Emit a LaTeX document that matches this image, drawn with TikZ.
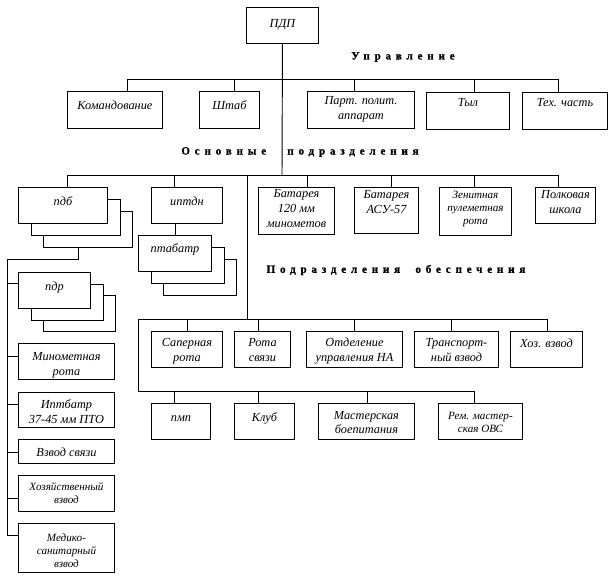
\documentclass[tikz,border=0pt]{standalone}
\usepackage{fontspec}
\setmainfont{Liberation Serif}
\newcommand{\itfont}{\fontsize{10.5}{12.5}\selectfont\itshape}
\newcommand{\smallit}{\fontsize{9.5}{11}\selectfont\itshape}
\newcommand{\hdfont}{\fontsize{9.5}{11}\selectfont\bfseries\addfontfeature{LetterSpace=43,FakeBold=1}}
\newlength{\pxu}\setlength{\pxu}{0.03cm}
\newcommand{\cell}[4][4.5pt]{\parbox[c][#3\pxu][t]{#2\pxu}{\centering\vspace*{#1}\strut#4\par}}
\begin{document}
\begin{tikzpicture}[x=0.03cm, y=-0.03cm, line width=0.8pt,
  unit/.style={draw, fill=white, inner sep=0pt, anchor=north west, font=\itfont},
  smallunit/.style={unit, font=\smallit},
  head/.style={font=\hdfont}]
\useasboundingbox (0,0) rectangle (614,578);

% Управление
\node[unit] (pdp) at (246,7) {\cell[8.5pt]{72}{36}{ПДП}};
\node[head] (upr) at (403,57) {Управление};
\node[unit] (kom) at (67,91) {\cell[6.5pt]{95}{37}{Командование}};
\node[unit] (shtab) at (199,91) {\cell[6.5pt]{60}{37}{Штаб}};
\node[unit] (part) at (307,91) {\cell[2.5pt]{107}{37}{Парт. полит.\\аппарат}};
\node[unit] (tyl) at (426,92) {\cell[3pt]{83}{37}{Тыл}};
\node[unit] (tech) at (522,92) {\cell[3pt]{85}{37}{Тех. часть}};
\foreach \n/\x in {t1/127,t2/234,t3/354,t4/474,t5/558} \coordinate (\n) at (\x,79);
\draw (t1) -- (t5);
\foreach \c/\n in {t1/kom,t2/shtab,t3/part,t4/tyl,t5/tech} \draw (\c) -- (\c |- \n.north);

% Основные подразделения
\node[head] (osn) at (300,152) {Основные\hspace{18pt}подразделения};
\foreach \k in {2,1} \node[unit] (pdb\k) at ({18+12.5*\k},{187+12.2*\k}) {\cell{89}{36}{}};
\node[unit] (pdb) at (18,187) {\cell[7pt]{89}{36}{пдб}};
\node[unit] (iptdn) at (151,187) {\cell[7pt]{71}{36}{иптдн}};
\foreach \k in {2,1} \node[unit] (ptab\k) at ({138+12.5*\k},{235+12*\k}) {\cell{73}{36}{}};
\node[unit] (ptab) at (138,235) {\cell[6pt]{73}{36}{птабатр}};
\node[unit] (bat) at (258,187) {\cell[0pt]{76}{47}{Батарея\\120 мм\\минометов}};
\node[unit] (asu) at (354,187) {\cell[1pt]{64}{46}{Батарея\\АСУ-57}};
\node[smallunit] (zenit) at (439,187) {\cell[2pt]{72}{48}{Зенитная\\пулеметная\\рота}};
\node[unit] (shkola) at (535,187) {\cell[1pt]{60}{36}{Полковая\\школа}};
\coordinate (m0) at (282,175);
\coordinate (mv) at (247,175);
\foreach \n/\x in {m1/67,m2/174,m3/307,m4/391,m5/474,m6/558} \coordinate (\n) at (\x,175);
\draw (pdp.south) -- (m0);
\draw (m1) -- (m6);
\foreach \c/\n in {m1/pdb,m2/iptdn,m3/bat,m4/asu,m5/zenit,m6/shkola} \draw (\c) -- (\c |- \n.north);
\draw (iptdn.south -| ptab.north) -- (ptab.north);

% пдб
\foreach \k in {2,1} \node[unit] (pdr\k) at ({18+12.5*\k},{272+11.7*\k}) {\cell{72}{36}{}};
\node[unit] (pdr) at (18,272) {\cell[7pt]{72}{36}{пдр}};
\node[unit] (min) at (18,343) {\cell[6pt]{96}{36}{Минометная\\рота}};
\node[unit] (iptbatr) at (18,392) {\cell[5pt]{96}{35}{Иптбатр\\37-45 мм ПТО}};
\node[unit] (vzv) at (18,439) {\cell[6pt]{96}{24}{Взвод связи}};
\node[smallunit] (khoz) at (18,475) {\cell[5.5pt]{96}{36}{Хозяйственный\\взвод}};
\node[smallunit] (med) at (18,523) {\cell[8pt]{96}{49}{Медико-\\санитарный\\взвод}};
\coordinate (pdbtail) at (78,259);
\coordinate (l0) at (7,259);
\foreach \n/\y in {l1/283,l2/356,l3/404,l4/452,l5/498,l6/535} \coordinate (\n) at (7,\y);
\draw (pdb2.south -| pdbtail) -- (pdbtail) -- (l0) -- (l6);
\foreach \c/\n in {l1/pdr,l2/min,l3/iptbatr,l4/vzv,l5/khoz,l6/med} \draw (\c) -- (\c -| \n.west);

% Подразделения обеспечения
\node[head] (obsp) at (396,270) {Подразделения\hspace{13pt}обеспечения};
\node[unit] (sap) at (151,331) {\cell{71}{36}{Саперная\\рота}};
\node[unit] (rsv) at (234,331) {\cell{56}{36}{Рота\\связи}};
\node[unit] (otd) at (306,331) {\cell{96}{36}{Отделение\\управления НА}};
\node[unit] (trans) at (414,331) {\cell{84}{36}{Транспорт-\\ный взвод}};
\node[unit] (hozv) at (510,331) {\cell[5pt]{72}{36}{Хоз. взвод}};
\node[unit] (pmp) at (151,403) {\cell[6.5pt]{59}{36}{пмп}};
\node[unit] (klub) at (234,403) {\cell[6.5pt]{60}{36}{Клуб}};
\node[unit] (mast) at (318,403) {\cell{96}{36}{Мастерская\\боепитания}};
\node[smallunit] (rem) at (438,403) {\cell[6pt]{84}{36}{Рем. мастер-\\ская ОВС}};
\coordinate (s0) at (247,319);
\coordinate (sl) at (138,319);
\coordinate (rl) at (138,391);
\foreach \n/\x in {s1/187,s2/258,s3/354,s4/451,s5/547} \coordinate (\n) at (\x,319);
\foreach \n/\x in {r1/174,r2/258,r3/367,r4/474} \coordinate (\n) at (\x,391);
\draw (mv) -- (s0);
\draw (sl) -- (s5);
\draw (sl) -- (rl) -- (r4);
\foreach \c/\n in {s1/sap,s2/rsv,s3/otd,s4/trans,s5/hozv} \draw (\c) -- (\c |- \n.north);
\foreach \c/\n in {r1/pmp,r2/klub,r3/mast,r4/rem} \draw (\c) -- (\c |- \n.north);
\end{tikzpicture}
\end{document}
